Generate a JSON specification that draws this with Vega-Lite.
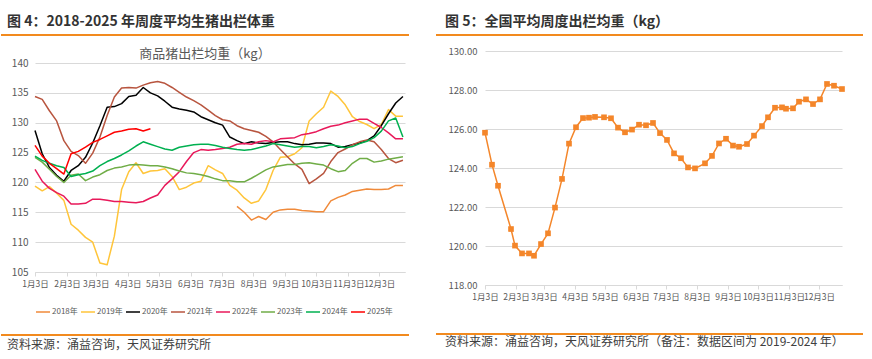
{
  "$schema": "https://vega.github.io/schema/vega-lite/v6.json",
  "background": "white",
  "padding": {"left": 0, "top": 15, "right": 0, "bottom": 0},
  "config": {
    "font": "Noto Sans CJK SC",
    "view": {"stroke": null},
    "axis": {
      "labelFont": "Liberation Sans Narrow, Noto Sans CJK SC, sans-serif",
      "labelFontSize": 10,
      "labelColor": "#595959",
      "gridColor": "#d9d9d9",
      "domainColor": "#d9d9d9",
      "tickColor": "#d9d9d9",
      "title": null
    },
    "legend": {
      "orient": "bottom",
      "direction": "horizontal",
      "symbolType": "stroke",
      "symbolSize": 196,
      "labelFont": "Liberation Sans Narrow, Noto Sans CJK SC, sans-serif",
      "labelFontSize": 8,
      "labelColor": "#595959",
      "labelOffset": 1,
      "columnPadding": 0,
      "offset": 16,
      "title": null
    }
  },
  "datasets": {
    "left": [
      {"s":"2018年","d":"2021-07-18","v":116.0},{"s":"2018年","d":"2021-07-25","v":115.0},{"s":"2018年","d":"2021-08-01","v":113.7},{"s":"2018年","d":"2021-08-08","v":114.3},{"s":"2018年","d":"2021-08-15","v":113.8},{"s":"2018年","d":"2021-08-22","v":115.0},{"s":"2018年","d":"2021-08-29","v":115.4},{"s":"2018年","d":"2021-09-05","v":115.5},{"s":"2018年","d":"2021-09-12","v":115.5},{"s":"2018年","d":"2021-09-19","v":115.3},{"s":"2018年","d":"2021-09-26","v":115.2},{"s":"2018年","d":"2021-10-03","v":115.1},{"s":"2018年","d":"2021-10-10","v":115.1},{"s":"2018年","d":"2021-10-17","v":116.9},{"s":"2018年","d":"2021-10-24","v":117.5},{"s":"2018年","d":"2021-10-31","v":117.9},{"s":"2018年","d":"2021-11-07","v":118.5},{"s":"2018年","d":"2021-11-14","v":118.7},{"s":"2018年","d":"2021-11-21","v":118.9},{"s":"2018年","d":"2021-11-28","v":118.8},{"s":"2018年","d":"2021-12-05","v":118.8},{"s":"2018年","d":"2021-12-12","v":118.9},{"s":"2018年","d":"2021-12-19","v":119.5},{"s":"2018年","d":"2021-12-26","v":119.5},

      {"s":"2019年","d":"2021-01-03","v":119.4},{"s":"2019年","d":"2021-01-10","v":118.6},{"s":"2019年","d":"2021-01-17","v":119.3},{"s":"2019年","d":"2021-01-24","v":118.2},{"s":"2019年","d":"2021-01-31","v":117.0},{"s":"2019年","d":"2021-02-07","v":113.0},{"s":"2019年","d":"2021-02-14","v":112.0},{"s":"2019年","d":"2021-02-21","v":110.8},{"s":"2019年","d":"2021-02-28","v":110.0},{"s":"2019年","d":"2021-03-07","v":106.5},{"s":"2019年","d":"2021-03-14","v":106.2},{"s":"2019年","d":"2021-03-21","v":111.0},{"s":"2019年","d":"2021-03-28","v":118.8},{"s":"2019年","d":"2021-04-04","v":121.8},{"s":"2019年","d":"2021-04-11","v":123.3},{"s":"2019年","d":"2021-04-18","v":121.5},{"s":"2019年","d":"2021-04-25","v":121.9},{"s":"2019年","d":"2021-05-02","v":122.0},{"s":"2019年","d":"2021-05-09","v":122.3},{"s":"2019年","d":"2021-05-16","v":121.0},{"s":"2019年","d":"2021-05-23","v":118.8},{"s":"2019年","d":"2021-05-30","v":119.2},{"s":"2019年","d":"2021-06-06","v":119.9},{"s":"2019年","d":"2021-06-13","v":120.2},{"s":"2019年","d":"2021-06-20","v":122.8},{"s":"2019年","d":"2021-06-27","v":122.1},{"s":"2019年","d":"2021-07-04","v":121.5},{"s":"2019年","d":"2021-07-11","v":119.5},{"s":"2019年","d":"2021-07-18","v":118.7},{"s":"2019年","d":"2021-07-25","v":117.4},{"s":"2019年","d":"2021-08-01","v":116.5},{"s":"2019年","d":"2021-08-08","v":116.9},{"s":"2019年","d":"2021-08-15","v":118.8},{"s":"2019年","d":"2021-08-22","v":122.0},{"s":"2019年","d":"2021-08-29","v":124.2},{"s":"2019年","d":"2021-09-05","v":124.3},{"s":"2019年","d":"2021-09-12","v":124.8},{"s":"2019年","d":"2021-09-19","v":125.8},{"s":"2019年","d":"2021-09-26","v":130.3},{"s":"2019年","d":"2021-10-03","v":131.5},{"s":"2019年","d":"2021-10-10","v":132.6},{"s":"2019年","d":"2021-10-17","v":135.3},{"s":"2019年","d":"2021-10-24","v":134.4},{"s":"2019年","d":"2021-10-31","v":133.0},{"s":"2019年","d":"2021-11-07","v":131.0},{"s":"2019年","d":"2021-11-14","v":130.2},{"s":"2019年","d":"2021-11-21","v":129.7},{"s":"2019年","d":"2021-11-28","v":129.0},{"s":"2019年","d":"2021-12-05","v":129.7},{"s":"2019年","d":"2021-12-12","v":132.2},{"s":"2019年","d":"2021-12-19","v":131.1},{"s":"2019年","d":"2021-12-26","v":131.1},

      {"s":"2020年","d":"2021-01-03","v":128.7},{"s":"2020年","d":"2021-01-10","v":124.8},{"s":"2020年","d":"2021-01-17","v":122.5},{"s":"2020年","d":"2021-01-24","v":121.2},{"s":"2020年","d":"2021-01-31","v":120.2},{"s":"2020年","d":"2021-02-07","v":122.0},{"s":"2020年","d":"2021-02-14","v":122.8},{"s":"2020年","d":"2021-02-21","v":124.2},{"s":"2020年","d":"2021-02-28","v":126.6},{"s":"2020年","d":"2021-03-07","v":129.5},{"s":"2020年","d":"2021-03-14","v":132.6},{"s":"2020年","d":"2021-03-21","v":132.7},{"s":"2020年","d":"2021-03-28","v":133.2},{"s":"2020年","d":"2021-04-04","v":134.4},{"s":"2020年","d":"2021-04-11","v":134.6},{"s":"2020年","d":"2021-04-18","v":135.9},{"s":"2020年","d":"2021-04-25","v":135.0},{"s":"2020年","d":"2021-05-02","v":134.5},{"s":"2020年","d":"2021-05-09","v":133.6},{"s":"2020年","d":"2021-05-16","v":132.6},{"s":"2020年","d":"2021-05-23","v":132.3},{"s":"2020年","d":"2021-05-30","v":132.1},{"s":"2020年","d":"2021-06-06","v":131.8},{"s":"2020年","d":"2021-06-13","v":131.0},{"s":"2020年","d":"2021-06-20","v":130.5},{"s":"2020年","d":"2021-06-27","v":130.0},{"s":"2020年","d":"2021-07-04","v":129.6},{"s":"2020年","d":"2021-07-11","v":127.6},{"s":"2020年","d":"2021-07-18","v":127.0},{"s":"2020年","d":"2021-07-25","v":126.5},{"s":"2020年","d":"2021-08-01","v":126.8},{"s":"2020年","d":"2021-08-08","v":126.6},{"s":"2020年","d":"2021-08-15","v":126.5},{"s":"2020年","d":"2021-08-22","v":126.7},{"s":"2020年","d":"2021-08-29","v":126.8},{"s":"2020年","d":"2021-09-05","v":126.8},{"s":"2020年","d":"2021-09-12","v":126.5},{"s":"2020年","d":"2021-09-19","v":126.3},{"s":"2020年","d":"2021-09-26","v":126.4},{"s":"2020年","d":"2021-10-03","v":126.6},{"s":"2020年","d":"2021-10-10","v":126.6},{"s":"2020年","d":"2021-10-17","v":126.5},{"s":"2020年","d":"2021-10-24","v":125.9},{"s":"2020年","d":"2021-10-31","v":126.0},{"s":"2020年","d":"2021-11-07","v":126.3},{"s":"2020年","d":"2021-11-14","v":126.6},{"s":"2020年","d":"2021-11-21","v":127.0},{"s":"2020年","d":"2021-11-28","v":127.8},{"s":"2020年","d":"2021-12-05","v":129.5},{"s":"2020年","d":"2021-12-12","v":131.5},{"s":"2020年","d":"2021-12-19","v":133.3},{"s":"2020年","d":"2021-12-26","v":134.4},

      {"s":"2021年","d":"2021-01-03","v":134.4},{"s":"2021年","d":"2021-01-10","v":133.9},{"s":"2021年","d":"2021-01-17","v":132.0},{"s":"2021年","d":"2021-01-24","v":130.3},{"s":"2021年","d":"2021-01-31","v":127.0},{"s":"2021年","d":"2021-02-07","v":125.2},{"s":"2021年","d":"2021-02-14","v":124.5},{"s":"2021年","d":"2021-02-21","v":123.2},{"s":"2021年","d":"2021-02-28","v":124.9},{"s":"2021年","d":"2021-03-07","v":127.6},{"s":"2021年","d":"2021-03-14","v":131.2},{"s":"2021年","d":"2021-03-21","v":134.3},{"s":"2021年","d":"2021-03-28","v":135.8},{"s":"2021年","d":"2021-04-04","v":135.9},{"s":"2021年","d":"2021-04-11","v":135.8},{"s":"2021年","d":"2021-04-18","v":136.3},{"s":"2021年","d":"2021-04-25","v":136.7},{"s":"2021年","d":"2021-05-02","v":136.9},{"s":"2021年","d":"2021-05-09","v":136.6},{"s":"2021年","d":"2021-05-16","v":135.9},{"s":"2021年","d":"2021-05-23","v":135.1},{"s":"2021年","d":"2021-05-30","v":134.3},{"s":"2021年","d":"2021-06-06","v":133.7},{"s":"2021年","d":"2021-06-13","v":133.0},{"s":"2021年","d":"2021-06-20","v":132.1},{"s":"2021年","d":"2021-06-27","v":131.2},{"s":"2021年","d":"2021-07-04","v":130.5},{"s":"2021年","d":"2021-07-11","v":130.3},{"s":"2021年","d":"2021-07-18","v":129.5},{"s":"2021年","d":"2021-07-25","v":129.0},{"s":"2021年","d":"2021-08-01","v":128.7},{"s":"2021年","d":"2021-08-08","v":128.4},{"s":"2021年","d":"2021-08-15","v":127.7},{"s":"2021年","d":"2021-08-22","v":126.8},{"s":"2021年","d":"2021-08-29","v":125.5},{"s":"2021年","d":"2021-09-05","v":124.3},{"s":"2021年","d":"2021-09-12","v":123.1},{"s":"2021年","d":"2021-09-19","v":122.2},{"s":"2021年","d":"2021-09-26","v":119.8},{"s":"2021年","d":"2021-10-03","v":120.6},{"s":"2021年","d":"2021-10-10","v":121.5},{"s":"2021年","d":"2021-10-17","v":123.5},{"s":"2021年","d":"2021-10-24","v":125.0},{"s":"2021年","d":"2021-10-31","v":125.6},{"s":"2021年","d":"2021-11-07","v":126.3},{"s":"2021年","d":"2021-11-14","v":126.8},{"s":"2021年","d":"2021-11-21","v":127.1},{"s":"2021年","d":"2021-11-28","v":126.8},{"s":"2021年","d":"2021-12-05","v":125.5},{"s":"2021年","d":"2021-12-12","v":124.0},{"s":"2021年","d":"2021-12-19","v":123.3},{"s":"2021年","d":"2021-12-26","v":123.7},

      {"s":"2022年","d":"2021-01-03","v":122.2},{"s":"2022年","d":"2021-01-10","v":120.2},{"s":"2022年","d":"2021-01-17","v":119.0},{"s":"2022年","d":"2021-01-24","v":118.3},{"s":"2022年","d":"2021-01-31","v":117.7},{"s":"2022年","d":"2021-02-07","v":116.4},{"s":"2022年","d":"2021-02-14","v":116.4},{"s":"2022年","d":"2021-02-21","v":116.5},{"s":"2022年","d":"2021-02-28","v":117.2},{"s":"2022年","d":"2021-03-07","v":117.2},{"s":"2022年","d":"2021-03-14","v":117.0},{"s":"2022年","d":"2021-03-21","v":116.8},{"s":"2022年","d":"2021-03-28","v":116.8},{"s":"2022年","d":"2021-04-04","v":116.7},{"s":"2022年","d":"2021-04-11","v":116.6},{"s":"2022年","d":"2021-04-18","v":116.8},{"s":"2022年","d":"2021-04-25","v":117.4},{"s":"2022年","d":"2021-05-02","v":117.9},{"s":"2022年","d":"2021-05-09","v":119.5},{"s":"2022年","d":"2021-05-16","v":120.6},{"s":"2022年","d":"2021-05-23","v":121.8},{"s":"2022年","d":"2021-05-30","v":123.5},{"s":"2022年","d":"2021-06-06","v":125.0},{"s":"2022年","d":"2021-06-13","v":125.5},{"s":"2022年","d":"2021-06-20","v":125.4},{"s":"2022年","d":"2021-06-27","v":125.5},{"s":"2022年","d":"2021-07-04","v":125.7},{"s":"2022年","d":"2021-07-11","v":125.9},{"s":"2022年","d":"2021-07-18","v":126.4},{"s":"2022年","d":"2021-07-25","v":126.5},{"s":"2022年","d":"2021-08-01","v":126.4},{"s":"2022年","d":"2021-08-08","v":126.8},{"s":"2022年","d":"2021-08-15","v":127.0},{"s":"2022年","d":"2021-08-22","v":126.8},{"s":"2022年","d":"2021-08-29","v":127.3},{"s":"2022年","d":"2021-09-05","v":127.4},{"s":"2022年","d":"2021-09-12","v":127.5},{"s":"2022年","d":"2021-09-19","v":128.0},{"s":"2022年","d":"2021-09-26","v":128.2},{"s":"2022年","d":"2021-10-03","v":128.5},{"s":"2022年","d":"2021-10-10","v":129.0},{"s":"2022年","d":"2021-10-17","v":129.4},{"s":"2022年","d":"2021-10-24","v":129.6},{"s":"2022年","d":"2021-10-31","v":130.0},{"s":"2022年","d":"2021-11-07","v":130.3},{"s":"2022年","d":"2021-11-14","v":130.6},{"s":"2022年","d":"2021-11-21","v":130.6},{"s":"2022年","d":"2021-11-28","v":129.9},{"s":"2022年","d":"2021-12-05","v":129.2},{"s":"2022年","d":"2021-12-12","v":128.3},{"s":"2022年","d":"2021-12-19","v":127.3},{"s":"2022年","d":"2021-12-26","v":127.3},

      {"s":"2023年","d":"2021-01-03","v":124.2},{"s":"2023年","d":"2021-01-10","v":123.4},{"s":"2023年","d":"2021-01-17","v":122.2},{"s":"2023年","d":"2021-01-24","v":121.0},{"s":"2023年","d":"2021-01-31","v":120.0},{"s":"2023年","d":"2021-02-07","v":121.2},{"s":"2023年","d":"2021-02-14","v":121.4},{"s":"2023年","d":"2021-02-21","v":120.3},{"s":"2023年","d":"2021-02-28","v":120.9},{"s":"2023年","d":"2021-03-07","v":121.3},{"s":"2023年","d":"2021-03-14","v":122.0},{"s":"2023年","d":"2021-03-21","v":122.4},{"s":"2023年","d":"2021-03-28","v":122.6},{"s":"2023年","d":"2021-04-04","v":122.9},{"s":"2023年","d":"2021-04-11","v":123.0},{"s":"2023年","d":"2021-04-18","v":122.9},{"s":"2023年","d":"2021-04-25","v":122.8},{"s":"2023年","d":"2021-05-02","v":122.8},{"s":"2023年","d":"2021-05-09","v":122.6},{"s":"2023年","d":"2021-05-16","v":122.3},{"s":"2023年","d":"2021-05-23","v":121.9},{"s":"2023年","d":"2021-05-30","v":121.6},{"s":"2023年","d":"2021-06-06","v":121.5},{"s":"2023年","d":"2021-06-13","v":121.3},{"s":"2023年","d":"2021-06-20","v":121.0},{"s":"2023年","d":"2021-06-27","v":120.6},{"s":"2023年","d":"2021-07-04","v":120.3},{"s":"2023年","d":"2021-07-11","v":120.3},{"s":"2023年","d":"2021-07-18","v":120.1},{"s":"2023年","d":"2021-07-25","v":120.1},{"s":"2023年","d":"2021-08-01","v":120.7},{"s":"2023年","d":"2021-08-08","v":121.4},{"s":"2023年","d":"2021-08-15","v":122.1},{"s":"2023年","d":"2021-08-22","v":122.6},{"s":"2023年","d":"2021-08-29","v":122.8},{"s":"2023年","d":"2021-09-05","v":123.0},{"s":"2023年","d":"2021-09-12","v":123.0},{"s":"2023年","d":"2021-09-19","v":123.2},{"s":"2023年","d":"2021-09-26","v":123.3},{"s":"2023年","d":"2021-10-03","v":123.1},{"s":"2023年","d":"2021-10-10","v":122.9},{"s":"2023年","d":"2021-10-17","v":122.3},{"s":"2023年","d":"2021-10-24","v":121.8},{"s":"2023年","d":"2021-10-31","v":122.0},{"s":"2023年","d":"2021-11-07","v":123.2},{"s":"2023年","d":"2021-11-14","v":124.0},{"s":"2023年","d":"2021-11-21","v":124.0},{"s":"2023年","d":"2021-11-28","v":123.4},{"s":"2023年","d":"2021-12-05","v":123.6},{"s":"2023年","d":"2021-12-12","v":123.9},{"s":"2023年","d":"2021-12-19","v":124.1},{"s":"2023年","d":"2021-12-26","v":124.3},

      {"s":"2024年","d":"2021-01-03","v":124.4},{"s":"2024年","d":"2021-01-10","v":123.7},{"s":"2024年","d":"2021-01-17","v":123.2},{"s":"2024年","d":"2021-01-24","v":122.8},{"s":"2024年","d":"2021-01-31","v":122.5},{"s":"2024年","d":"2021-02-07","v":121.0},{"s":"2024年","d":"2021-02-14","v":121.3},{"s":"2024年","d":"2021-02-21","v":121.5},{"s":"2024年","d":"2021-02-28","v":121.9},{"s":"2024年","d":"2021-03-07","v":122.8},{"s":"2024年","d":"2021-03-14","v":123.5},{"s":"2024年","d":"2021-03-21","v":124.0},{"s":"2024年","d":"2021-03-28","v":124.6},{"s":"2024年","d":"2021-04-04","v":125.3},{"s":"2024年","d":"2021-04-11","v":126.1},{"s":"2024年","d":"2021-04-18","v":126.8},{"s":"2024年","d":"2021-04-25","v":126.4},{"s":"2024年","d":"2021-05-02","v":126.0},{"s":"2024年","d":"2021-05-09","v":125.6},{"s":"2024年","d":"2021-05-16","v":125.4},{"s":"2024年","d":"2021-05-23","v":125.9},{"s":"2024年","d":"2021-05-30","v":126.1},{"s":"2024年","d":"2021-06-06","v":126.3},{"s":"2024年","d":"2021-06-13","v":126.4},{"s":"2024年","d":"2021-06-20","v":126.4},{"s":"2024年","d":"2021-06-27","v":126.2},{"s":"2024年","d":"2021-07-04","v":125.9},{"s":"2024年","d":"2021-07-11","v":125.7},{"s":"2024年","d":"2021-07-18","v":125.5},{"s":"2024年","d":"2021-07-25","v":125.4},{"s":"2024年","d":"2021-08-01","v":125.5},{"s":"2024年","d":"2021-08-08","v":125.8},{"s":"2024年","d":"2021-08-15","v":126.1},{"s":"2024年","d":"2021-08-22","v":126.5},{"s":"2024年","d":"2021-08-29","v":126.3},{"s":"2024年","d":"2021-09-05","v":126.1},{"s":"2024年","d":"2021-09-12","v":125.9},{"s":"2024年","d":"2021-09-19","v":126.0},{"s":"2024年","d":"2021-09-26","v":126.0},{"s":"2024年","d":"2021-10-03","v":125.8},{"s":"2024年","d":"2021-10-10","v":126.0},{"s":"2024年","d":"2021-10-17","v":126.3},{"s":"2024年","d":"2021-10-24","v":126.1},{"s":"2024年","d":"2021-10-31","v":125.8},{"s":"2024年","d":"2021-11-07","v":126.0},{"s":"2024年","d":"2021-11-14","v":126.5},{"s":"2024年","d":"2021-11-21","v":126.9},{"s":"2024年","d":"2021-11-28","v":127.5},{"s":"2024年","d":"2021-12-05","v":128.6},{"s":"2024年","d":"2021-12-12","v":130.3},{"s":"2024年","d":"2021-12-19","v":130.8},{"s":"2024年","d":"2021-12-26","v":127.6},

      {"s":"2025年","d":"2021-01-03","v":126.2},{"s":"2025年","d":"2021-01-10","v":124.4},{"s":"2025年","d":"2021-01-17","v":123.2},{"s":"2025年","d":"2021-01-24","v":122.3},{"s":"2025年","d":"2021-01-31","v":121.4},{"s":"2025年","d":"2021-02-07","v":124.8},{"s":"2025年","d":"2021-02-14","v":125.2},{"s":"2025年","d":"2021-02-21","v":125.9},{"s":"2025年","d":"2021-02-28","v":126.7},{"s":"2025年","d":"2021-03-07","v":127.2},{"s":"2025年","d":"2021-03-14","v":127.8},{"s":"2025年","d":"2021-03-21","v":128.4},{"s":"2025年","d":"2021-03-28","v":128.6},{"s":"2025年","d":"2021-04-04","v":128.9},{"s":"2025年","d":"2021-04-11","v":129.0},{"s":"2025年","d":"2021-04-18","v":128.6},{"s":"2025年","d":"2021-04-25","v":129.0}
    ],
    "right": [
      {"d":"2021-01-03","v":125.81},{"d":"2021-01-10","v":124.17},{"d":"2021-01-16","v":123.09},{"d":"2021-01-29","v":120.87},{"d":"2021-02-02","v":120.02},{"d":"2021-02-09","v":119.62},{"d":"2021-02-16","v":119.62},{"d":"2021-02-21","v":119.50},{"d":"2021-02-28","v":120.10},{"d":"2021-03-07","v":120.65},{"d":"2021-03-14","v":121.97},{"d":"2021-03-21","v":123.44},{"d":"2021-03-28","v":125.25},{"d":"2021-04-04","v":126.09},{"d":"2021-04-11","v":126.56},{"d":"2021-04-17","v":126.58},{"d":"2021-04-23","v":126.62},{"d":"2021-05-02","v":126.60},{"d":"2021-05-09","v":126.55},{"d":"2021-05-16","v":126.07},{"d":"2021-05-23","v":125.83},{"d":"2021-05-30","v":125.97},{"d":"2021-06-06","v":126.22},{"d":"2021-06-13","v":126.19},{"d":"2021-06-20","v":126.31},{"d":"2021-06-27","v":125.79},{"d":"2021-07-04","v":125.44},{"d":"2021-07-11","v":124.75},{"d":"2021-07-18","v":124.50},{"d":"2021-07-25","v":124.03},{"d":"2021-08-01","v":123.98},{"d":"2021-08-11","v":124.24},{"d":"2021-08-18","v":124.62},{"d":"2021-08-25","v":125.26},{"d":"2021-09-01","v":125.50},{"d":"2021-09-08","v":125.15},{"d":"2021-09-14","v":125.09},{"d":"2021-09-22","v":125.23},{"d":"2021-09-29","v":125.66},{"d":"2021-10-07","v":126.15},{"d":"2021-10-13","v":126.60},{"d":"2021-10-20","v":127.09},{"d":"2021-10-27","v":127.11},{"d":"2021-10-31","v":127.04},{"d":"2021-11-07","v":127.06},{"d":"2021-11-13","v":127.40},{"d":"2021-11-20","v":127.52},{"d":"2021-11-27","v":127.28},{"d":"2021-12-04","v":127.52},{"d":"2021-12-11","v":128.31},{"d":"2021-12-18","v":128.22},{"d":"2021-12-26","v":128.05}
    ]
  },
  "spacing": 25,
  "resolve": {"scale": {"color": "independent", "strokeWidth": "independent"}, "legend": {"color": "independent", "strokeWidth": "independent"}},
  "hconcat": [
    {
      "spacing": 10,
      "resolve": {"scale": {"color": "independent", "strokeWidth": "independent"}, "legend": {"color": "independent", "strokeWidth": "independent"}},
      "vconcat": [
        {
          "width": 408,
          "height": 3,
          "data": {"values": [{}]},
          "title": {"text": "图 4：2018-2025 年周度平均生猪出栏体重", "anchor": "start", "dx": 7, "fontSize": 14, "fontWeight": "bold", "color": "#333333", "offset": 5},
          "mark": {"type": "rule", "color": "#F28A1E", "strokeWidth": 2},
          "encoding": {"y": {"datum": 1, "type": "quantitative", "scale": {"domain": [0, 1]}, "axis": null}}
        },
        {
          "spacing": 0,
          "resolve": {"scale": {"color": "independent", "strokeWidth": "independent"}, "legend": {"color": "independent", "strokeWidth": "independent"}},
          "hconcat": [
            {
              "width": 1,
              "height": 1,
              "data": {"values": [{}]},
              "mark": {"type": "rule", "opacity": 0, "strokeWidth": 0},
              "encoding": {"y": {"datum": 0, "type": "quantitative", "scale": {"domain": [0, 1]}, "axis": null}}
            },
            {
              "width": 370,
              "height": 209,
              "data": {"name": "left"},
              "title": {"text": "商品猪出栏均重（kg）", "anchor": "middle", "dx": -15, "fontSize": 13, "fontWeight": "normal", "color": "#595959", "offset": -3},
              "mark": {"type": "line", "strokeJoin": "round"},
              "encoding": {
                "x": {
                  "field": "d", "type": "temporal",
                  "scale": {"type": "utc", "domain": [{"year": 2021, "month": 1, "date": 3, "utc": true}, {"year": 2021, "month": 12, "date": 28, "utc": true}]},
                  "axis": {
                    "values": [
                      {"year": 2021, "month": 1, "date": 3, "utc": true}, {"year": 2021, "month": 2, "date": 3, "utc": true}, {"year": 2021, "month": 3, "date": 3, "utc": true}, {"year": 2021, "month": 4, "date": 3, "utc": true}, {"year": 2021, "month": 5, "date": 3, "utc": true}, {"year": 2021, "month": 6, "date": 3, "utc": true}, {"year": 2021, "month": 7, "date": 3, "utc": true}, {"year": 2021, "month": 8, "date": 3, "utc": true}, {"year": 2021, "month": 9, "date": 3, "utc": true}, {"year": 2021, "month": 10, "date": 3, "utc": true}, {"year": 2021, "month": 11, "date": 3, "utc": true}, {"year": 2021, "month": 12, "date": 3, "utc": true}
                    ],
                    "format": "%-m月%-d日", "grid": false, "tickSize": 4, "labelPadding": 3, "labelFontSize": 8.5, "labelOverlap": false, "labelFlush": false
                  }
                },
                "y": {
                  "field": "v", "type": "quantitative",
                  "scale": {"domain": [105, 140], "nice": false, "zero": false},
                  "axis": {"values": [105, 110, 115, 120, 125, 130, 135, 140], "domain": false, "ticks": false, "labelPadding": 7, "minExtent": 33}
                },
                "color": {
                  "field": "s", "type": "nominal", "title": null,
                  "scale": {"domain": ["2018年", "2019年", "2020年", "2021年", "2022年", "2023年", "2024年", "2025年"], "range": ["#F08A3A", "#FFC53A", "#000000", "#B8553F", "#E8195A", "#70AD47", "#00B050", "#FF0000"]},
                  "legend": {"encoding": {"symbols": {"strokeWidth": {"condition": {"test": "datum.value === '2024年' || datum.value === '2025年'", "value": 3.5}, "value": 1.5}}}}
                },
                "strokeWidth": {
                  "field": "s", "type": "nominal", "title": null,
                  "scale": {"domain": ["2018年", "2019年", "2020年", "2021年", "2022年", "2023年", "2024年", "2025年"], "range": [1.5, 1.5, 1.5, 1.5, 1.5, 1.5, 3.5, 3.5]},
                  "legend": {"encoding": {"symbols": {"strokeWidth": {"condition": {"test": "datum.value === '2024年' || datum.value === '2025年'", "value": 3.5}, "value": 1.5}}}}
                }
              }
            }
          ]
        },
        {
          "width": 408,
          "height": 9,
          "data": {"values": [{}]},
          "title": {"text": "资料来源：涌益咨询，天风证券研究所", "orient": "bottom", "anchor": "start", "dx": 7, "fontSize": 12, "fontWeight": "normal", "color": "#404040", "offset": 4},
          "mark": {"type": "rule", "color": "#F28A1E", "strokeWidth": 2},
          "encoding": {"y": {"datum": 0, "type": "quantitative", "scale": {"domain": [0, 1]}, "axis": null}}
        }
      ]
    },
    {
      "spacing": 10,
      "vconcat": [
        {
          "width": 427,
          "height": 1,
          "data": {"values": [{}]},
          "title": {"text": "图 5：全国平均周度出栏均重（kg）", "anchor": "start", "dx": 10, "fontSize": 14, "fontWeight": "bold", "color": "#333333", "offset": 5},
          "mark": {"type": "rule", "color": "#F28A1E", "strokeWidth": 2},
          "encoding": {"y": {"datum": 1, "type": "quantitative", "scale": {"domain": [0, 1]}, "axis": null}}
        },
        {
          "spacing": 0,
          "hconcat": [
            {
              "width": 1,
              "height": 1,
              "data": {"values": [{}]},
              "mark": {"type": "rule", "opacity": 0, "strokeWidth": 0},
              "encoding": {"y": {"datum": 0, "type": "quantitative", "scale": {"domain": [0, 1]}, "axis": null}}
            },
            {
              "width": 357,
              "height": 234,
              "data": {"name": "right"},
              "encoding": {
                "x": {
                  "field": "d", "type": "temporal",
                  "scale": {"type": "utc", "domain": [{"year": 2021, "month": 1, "date": 3, "utc": true}, {"year": 2021, "month": 12, "date": 26, "utc": true}]},
                  "axis": {
                    "values": [
                      {"year": 2021, "month": 1, "date": 3, "utc": true}, {"year": 2021, "month": 2, "date": 3, "utc": true}, {"year": 2021, "month": 3, "date": 3, "utc": true}, {"year": 2021, "month": 4, "date": 3, "utc": true}, {"year": 2021, "month": 5, "date": 3, "utc": true}, {"year": 2021, "month": 6, "date": 3, "utc": true}, {"year": 2021, "month": 7, "date": 3, "utc": true}, {"year": 2021, "month": 8, "date": 3, "utc": true}, {"year": 2021, "month": 9, "date": 3, "utc": true}, {"year": 2021, "month": 10, "date": 3, "utc": true}, {"year": 2021, "month": 11, "date": 3, "utc": true}, {"year": 2021, "month": 12, "date": 3, "utc": true}
                    ],
                    "format": "%-m月%-d日", "grid": false, "tickSize": 4, "labelPadding": 3, "labelFontSize": 8.5, "labelOverlap": false, "labelFlush": false
                  }
                },
                "y": {
                  "field": "v", "type": "quantitative",
                  "scale": {"domain": [118, 130], "nice": false, "zero": false},
                  "axis": {"values": [118, 120, 122, 124, 126, 128, 130], "format": ".2f", "labelFontSize": 9.5, "domain": false, "ticks": false, "labelPadding": 8, "minExtent": 48}
                }
              },
              "layer": [
                {"mark": {"type": "line", "color": "#F4862A", "strokeWidth": 1.5}},
                {"mark": {"type": "point", "shape": "square", "filled": true, "size": 32, "color": "#F4862A", "opacity": 1}}
              ]
            }
          ]
        },
        {
          "width": 427,
          "height": 23,
          "data": {"values": [{}]},
          "title": {"text": "资料来源：涌益咨询，天风证券研究所（备注：数据区间为 2019-2024 年）", "orient": "bottom", "anchor": "start", "dx": 10, "fontSize": 12, "fontWeight": "normal", "color": "#404040", "offset": 2},
          "mark": {"type": "rule", "color": "#F28A1E", "strokeWidth": 2},
          "encoding": {"y": {"datum": 0, "type": "quantitative", "scale": {"domain": [0, 1]}, "axis": null}}
        }
      ]
    }
  ]
}
